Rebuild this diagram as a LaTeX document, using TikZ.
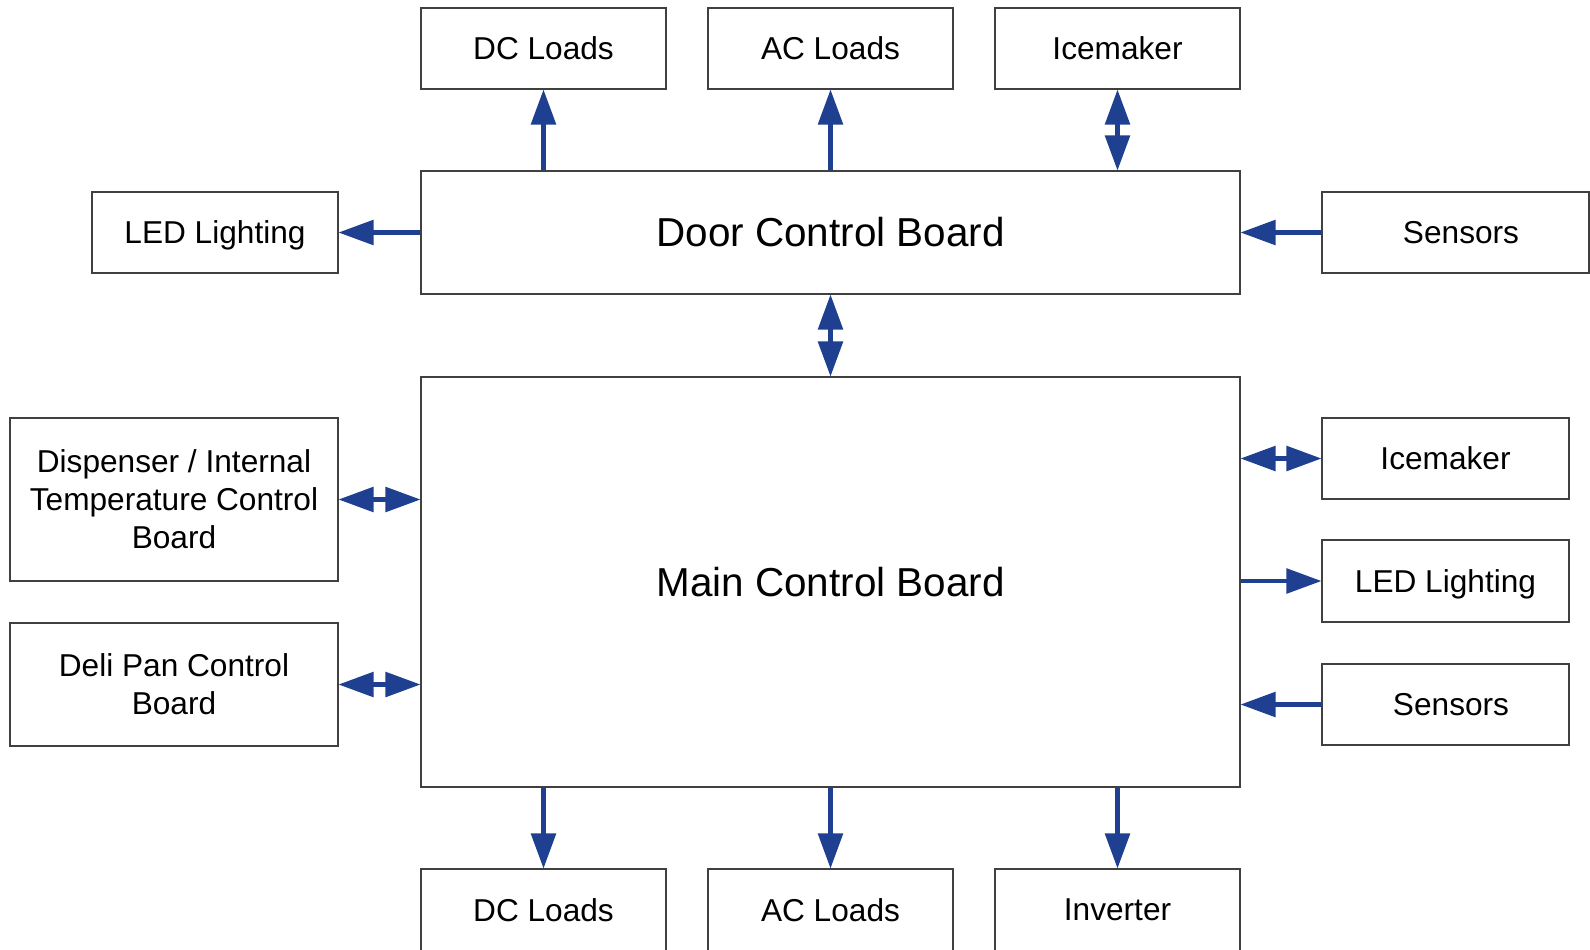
\documentclass[tikz,border=0pt]{standalone}
\usepackage{fontspec}
\setmainfont{Liberation Sans}
\usetikzlibrary{arrows.meta,positioning}
\definecolor{linkblue}{RGB}{31,64,145}
\tikzset{
  box/.style={draw=black!75,line width=0.6pt,fill=white,minimum width=4.9cm,minimum height=1.62cm,align=center,inner sep=2pt,font=\fontsize{18pt}{21.6pt}\selectfont},
  flatbox/.style={box,text depth=0pt},
  bigbox/.style={box,minimum width=16.38cm,font=\fontsize{23pt}{27pt}\selectfont},
  link/.style={draw=linkblue,line width=2.3pt,-{Triangle[length=20pt,width=14pt]}},
  dlink/.style={link,{Triangle[length=20pt,width=14pt]}-{Triangle[length=20pt,width=14pt]}}
}
\begin{document}
\begin{tikzpicture}
\useasboundingbox (0,0) rectangle (31.8,-18.98);
% boards
\node[bigbox,minimum height=2.46cm] (door) at (16.61,-4.65) {Door Control Board};
\node[bigbox,minimum height=8.2cm] (main) at (16.61,-11.64) {Main Control Board};
% top row
\node[box] (dcT) at (10.87,-0.97) {DC Loads};
\node[box] (acT) at (16.61,-0.97) {AC Loads};
\node[box] (iceT) at (22.35,-0.97) {Icemaker};
\node[flatbox,minimum width=4.92cm] (ledL) at (4.30,-4.65) {LED Lighting};
\node[box,minimum width=5.34cm] (sensT) at (29.11,-4.65) {\hspace*{0.22cm}Sensors};
% left side
\node[box,minimum width=6.56cm,minimum height=3.26cm] (disp) at (3.48,-9.99) {Dispenser / Internal\\Temperature Control\\Board};
\node[box,minimum width=6.56cm,minimum height=2.46cm] (deli) at (3.48,-13.69) {Deli Pan Control\\Board};
% right side
\node[box,minimum width=4.94cm] (iceR) at (28.91,-9.17) {Icemaker};
\node[flatbox,minimum width=4.94cm,minimum height=1.64cm] (ledR) at (28.91,-11.62) {LED Lighting};
\node[box,minimum width=4.94cm] (sensR) at (28.91,-14.09) {\hspace*{0.22cm}Sensors};
% bottom row
\node[box,minimum height=1.64cm] (dcB) at (10.87,-18.2) {DC Loads};
\node[box,minimum height=1.64cm] (acB) at (16.61,-18.2) {AC Loads};
\node[box,minimum height=1.64cm] (invB) at (22.35,-18.2) {Inverter};
% connectors
\draw[link] (door.north -| dcT.south) -- (dcT.south);
\draw[link] (door.north -| acT.south) -- (acT.south);
\draw[dlink] (door.north -| iceT.south) -- (iceT.south);
\draw[link] (door.west) -- (ledL.east);
\draw[link] (sensT.west) -- (door.east);
\draw[dlink] (main.north) -- (door.south);
\draw[dlink] (disp.east) -- (disp.east -| main.west);
\draw[dlink] (deli.east) -- (deli.east -| main.west);
\draw[dlink] (iceR.west -| main.east) -- (iceR.west);
\draw[link] (ledR.west -| main.east) -- (ledR.west);
\draw[link] (sensR.west) -- (sensR.west -| main.east);
\draw[link] (main.south -| dcB.north) -- (dcB.north);
\draw[link] (main.south -| acB.north) -- (acB.north);
\draw[link] (main.south -| invB.north) -- (invB.north);
\end{tikzpicture}
\end{document}
